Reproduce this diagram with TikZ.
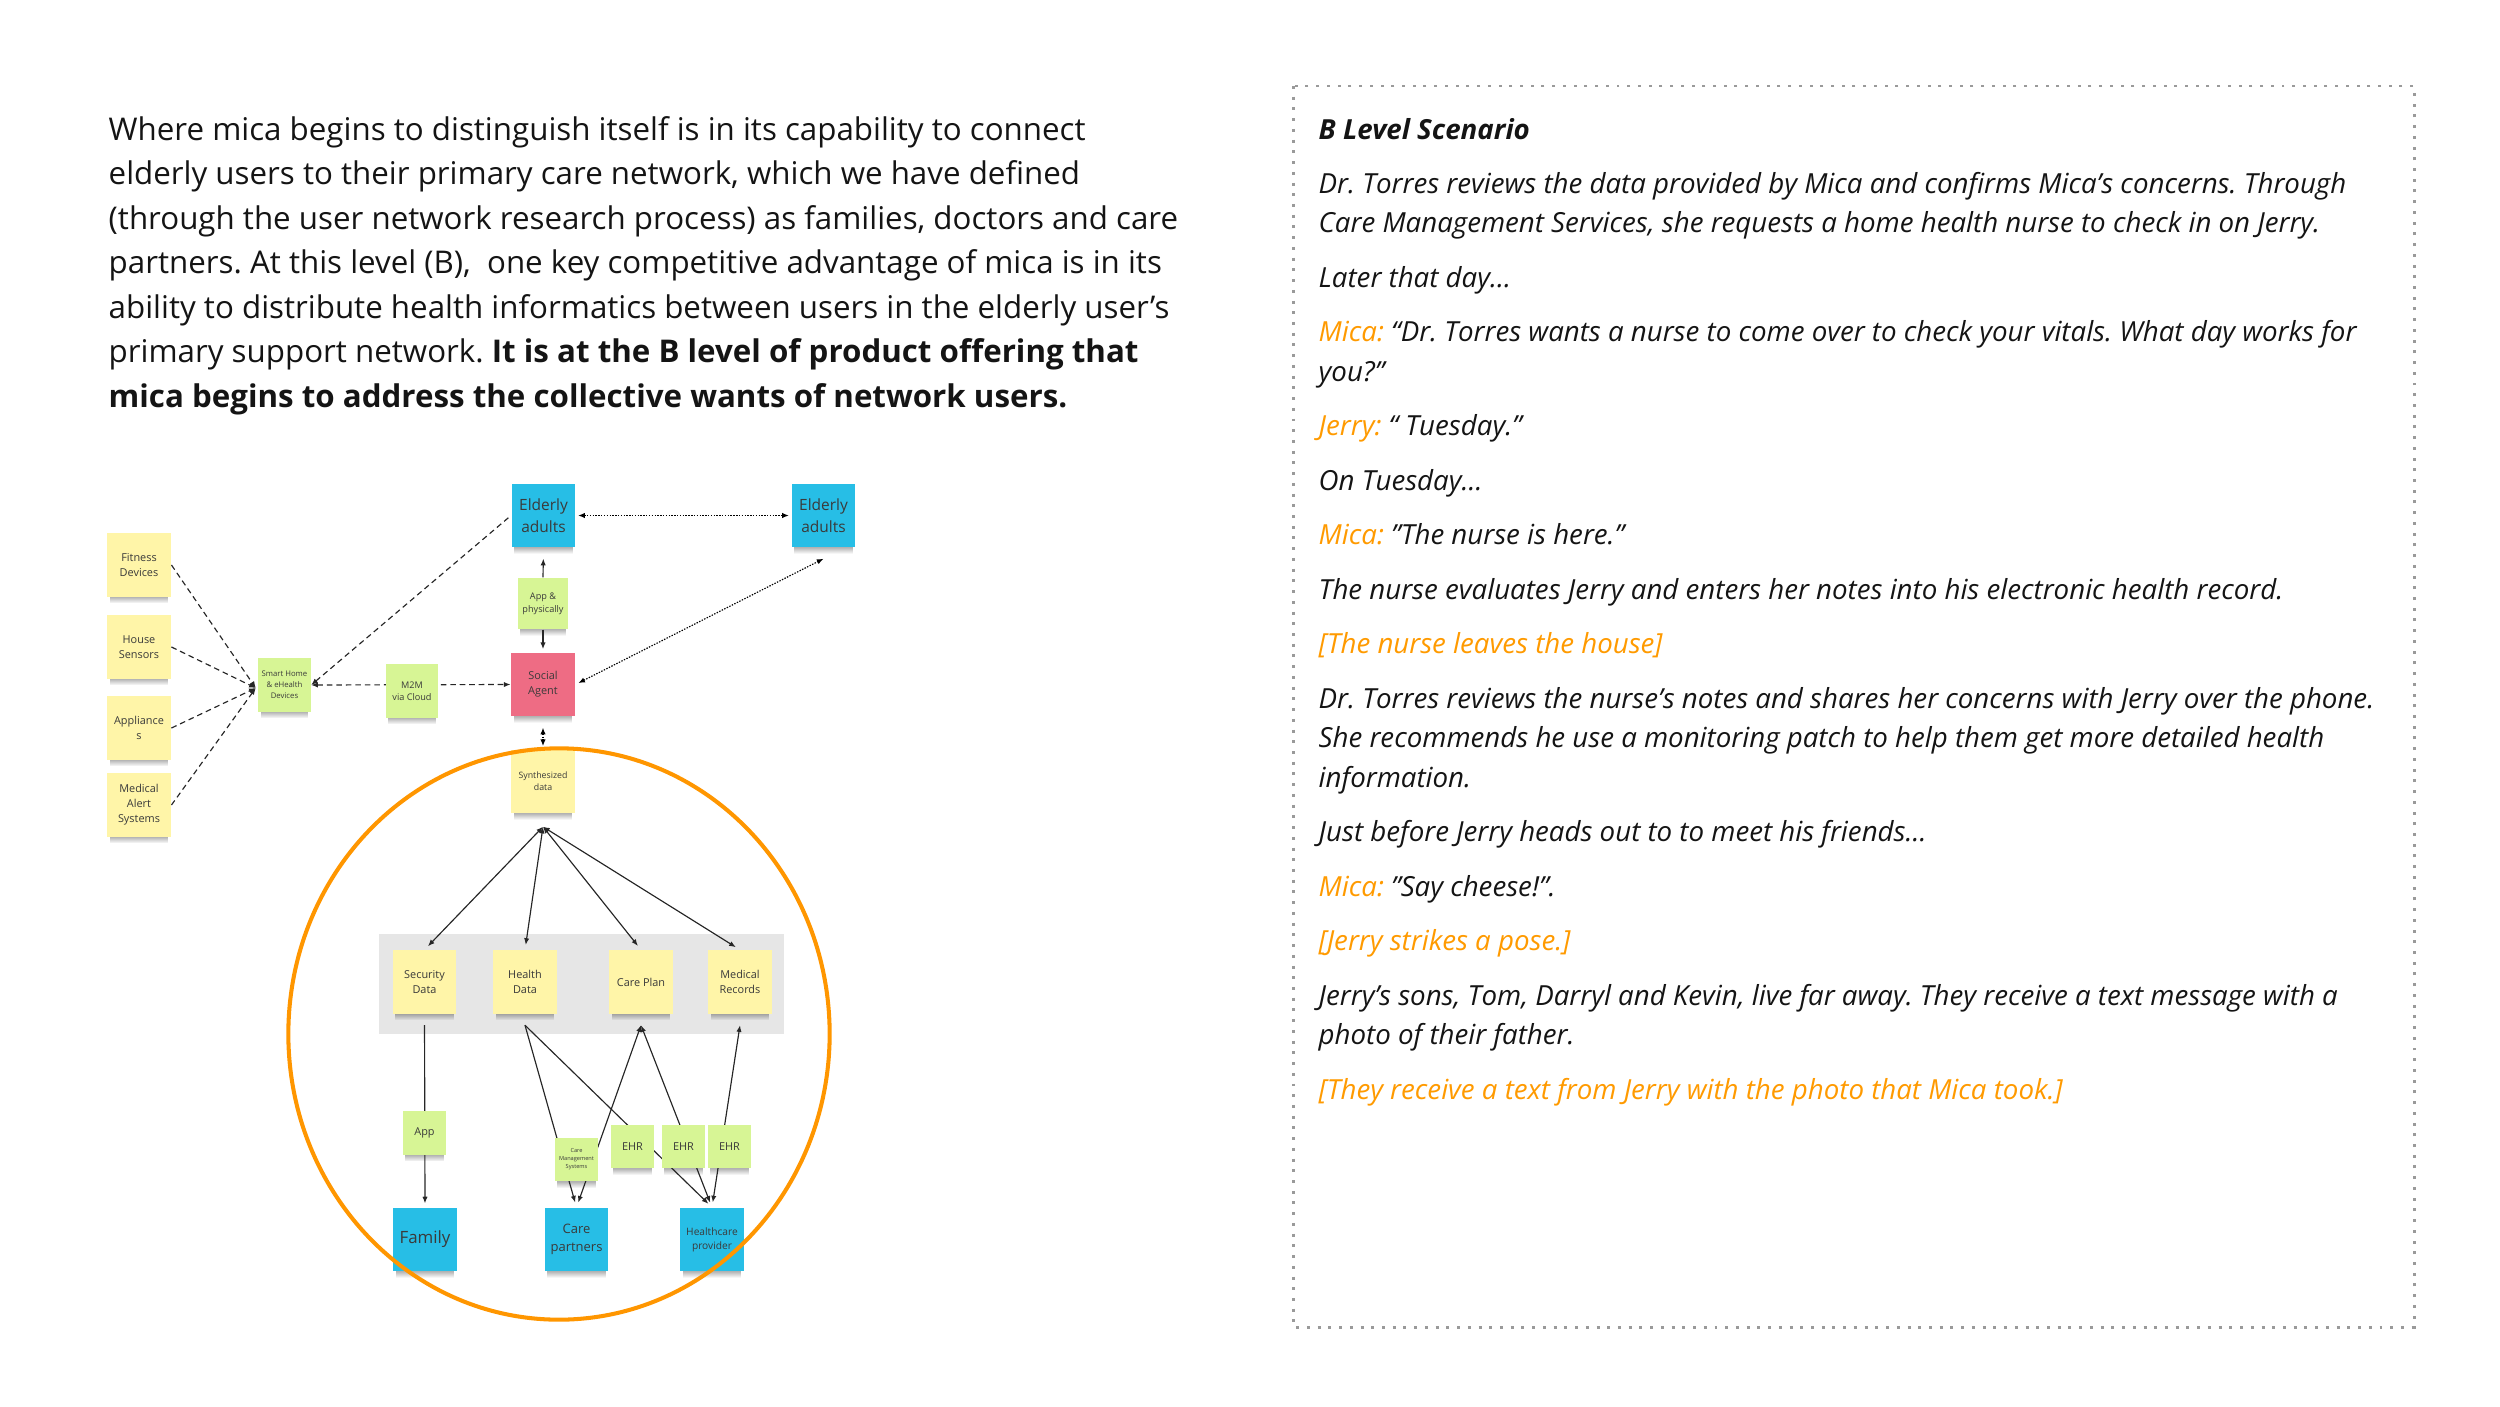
\documentclass[tikz,border=0pt]{standalone}
\usepackage{fontspec}
\setmainfont{Open Sans}
\usetikzlibrary{arrows.meta,calc,backgrounds,fadings}
\definecolor{stYellow}{HTML}{FFF5A8}
\definecolor{stGreen}{HTML}{D7F595}
\definecolor{stCyan}{HTML}{27BEE6}
\definecolor{stPink}{HTML}{EE6C84}
\definecolor{ringOrange}{HTML}{FF9600}
\definecolor{txtOrange}{HTML}{FF9A00}
\definecolor{noteText}{HTML}{3A3A3A}
\definecolor{panelGray}{HTML}{E6E6E6}
\definecolor{borderGray}{HTML}{9A9A9A}
\newcommand\nfs[2]{\fontsize{#1}{#2}\selectfont}
\newcommand\hl[1]{\textcolor{txtOrange}{#1}}
\frenchspacing
\begin{document}
\begin{tikzpicture}[x=0.01cm,y=-0.01cm,
  >={Latex[length=1.9pt,width=1.5pt]},
  note/.style={inner sep=0pt, align=center, text=noteText},
  big/.style={note, minimum width=0.635cm, minimum height=0.63cm},
  mid/.style={note, minimum width=0.52cm, minimum height=0.53cm},
  small/.style={note, minimum width=0.43cm, minimum height=0.435cm},
  yel/.style={fill=stYellow}, grn/.style={fill=stGreen},
  cyn/.style={fill=stCyan}, pnk/.style={fill=stPink},
  con/.style={draw=black!85, line width=0.33pt},
  dashedline/.style={con, dash pattern=on 1.6pt off 1.1pt},
  dottedline/.style={con, draw=black, dash pattern=on 0.4pt off 0.4pt},
  notedrop/.style={fill=black, opacity=0.3, path fading=south},
  ptext/.style={anchor=base west, inner sep=0pt, font=\nfs{8.9}{10}, text=black!92},
  rtext/.style={anchor=base west, inner sep=0pt, font=\nfs{7.87}{10}\itshape, text=black!92}]
\useasboundingbox (0,0) rectangle (2500,1406);

% ---------- left paragraph ----------
\node[ptext] (p1) at (108,140) {Where mica begins to distinguish itself is in its capability to connect};
\node[ptext] (p2) at (108,184.5) {elderly users to their primary care network, which we have defined};
\node[ptext] (p3) at (108,229) {(through the user network research process) as families, doctors and care};
\node[ptext] (p4) at (108,273.5) {partners. At this level (B),\ \ one key competitive advantage of mica is in its};
\node[ptext] (p5) at (108,318) {ability to distribute health informatics between users in the elderly user’s};
\node[ptext] (p6) at (108,362.5) {primary support network. \textbf{It is at the B level of product offering that}};
\node[ptext] (p7) at (108,407) {\textbf{mica begins to address the collective wants of network users.}};

% ---------- right panel ----------
\draw[borderGray, line width=0.85pt, dash pattern=on 0.85pt off 2.2pt] (1293,86) rectangle (2414,1327);
\node[rtext] (r0) at (1318,139) {\textbf{B Level Scenario}};
\node[rtext] (r1) at (1318,193) {Dr. Torres reviews the data provided by Mica and confirms Mica’s concerns. Through};
\node[rtext] (r2) at (1318,232.5) {Care Management Services, she requests a home health nurse to check in on Jerry.};
\node[rtext] (r3) at (1318,287) {Later that day…};
\node[rtext] (r4) at (1318,341.5) {\hl{Mica:} “Dr. Torres wants a nurse to come over to check your vitals. What day works for};
\node[rtext] (r5) at (1318,381) {you?”};
\node[rtext] (r6) at (1318,435.5) {\hl{Jerry:} “ Tuesday.”};
\node[rtext] (r7) at (1318,490) {On Tuesday…};
\node[rtext] (r8) at (1318,544.5) {\hl{Mica:} "The nurse is here."};
\node[rtext] (r9) at (1318,599) {The nurse evaluates Jerry and enters her notes into his electronic health record.};
\node[rtext] (r10) at (1318,653.5) {\hl{[The nurse leaves the house]}};
\node[rtext] (r11) at (1318,708) {Dr. Torres reviews the nurse’s notes and shares her concerns with Jerry over the phone.};
\node[rtext] (r12) at (1318,747.5) {She recommends he use a monitoring patch to help them get more detailed health};
\node[rtext] (r13) at (1318,787) {information.};
\node[rtext] (r14) at (1318,841.5) {Just before Jerry heads out to to meet his friends…};
\node[rtext] (r15) at (1318,896) {\hl{Mica:} "Say cheese!".};
\node[rtext] (r16) at (1318,950.5) {\hl{[Jerry strikes a pose.]}};
\node[rtext] (r17) at (1318,1005) {Jerry’s sons, Tom, Darryl and Kevin, live far away. They receive a text message with a};
\node[rtext] (r18) at (1318,1044.5) {photo of their father.};
\node[rtext] (r19) at (1318,1099) {\hl{[They receive a text from Jerry with the photo that Mica took.]}};

% ---------- diagram notes ----------
\node[big,yel,font=\nfs{3.1}{4.3}] (fit) at (139,565) {Fitness\\Devices};
\node[big,yel,font=\nfs{3.1}{4.3}] (hs) at (139,647) {House\\Sensors};
\node[big,yel,font=\nfs{3.1}{4.3}] (appl) at (139,728) {Appliance\\s};
\node[big,yel,font=\nfs{3.1}{4.3}] (med) at (139,805) {Medical\\Alert\\Systems};
\node[mid,grn,font=\nfs{2.2}{3.1}] (smart) at (284.5,685) {Smart Home\\\& eHealth\\Devices};
\node[mid,grn,font=\nfs{2.6}{3.5}] (m2m) at (412,691) {M2M\\via Cloud};
\node[big,cyn,font=\nfs{4.4}{6.2}] (eld1) at (543.5,515.5) {Elderly\\adults};
\node[big,cyn,font=\nfs{4.4}{6.2}] (eld2) at (823.5,515.5) {Elderly\\adults};
\node[note,grn,minimum width=0.5cm,minimum height=0.51cm,font=\nfs{2.6}{3.6}] (appphy) at (543,603.5) {App \&\\physically};
\node[big,pnk,font=\nfs{3.1}{4.3}] (social) at (543,684.5) {Social\\Agent};
\node[big,yel,font=\nfs{2.5}{3.5}] (synth) at (543,781.5) {Synthesized\\data};

\node[big,yel,font=\nfs{3.1}{4.3}] (sec) at (424.5,982) {Security\\Data};
\node[big,yel,font=\nfs{3.1}{4.3}] (hd) at (525,982) {Health\\Data};
\node[big,yel,font=\nfs{3.1}{4.3}] (cp) at (641,982) {Care Plan};
\node[big,yel,font=\nfs{3.1}{4.3}] (mr) at (740,982) {Medical\\Records};

\node[small,grn,font=\nfs{3.1}{4.3}] (app) at (424.5,1133) {App};
\node[small,grn,font=\nfs{1.6}{2.3}] (cms) at (576.5,1159.5) {Care\\Management\\Systems};
\node[small,grn,font=\nfs{3.1}{4.3}] (ehr1) at (632.5,1146.5) {EHR};
\node[small,grn,font=\nfs{3.1}{4.3}] (ehr2) at (683.5,1146.5) {EHR};
\node[small,grn,font=\nfs{3.1}{4.3}] (ehr3) at (729.5,1146.5) {EHR};

\node[big,cyn,font=\nfs{4.8}{6.6}] (fam) at (425,1239.5) {Family};
\node[big,cyn,font=\nfs{3.7}{5.2}] (cpart) at (576.5,1239.5) {Care\\partners};
\node[big,cyn,font=\nfs{2.9}{4.0}] (hcp) at (712,1239.5) {Healthcare\\provider};

% ---------- background: panel, shadows, connectors ----------
\begin{scope}[on background layer]
  \fill[panelGray] (379,934) rectangle (784,1034);
  \foreach \n in {fit,hs,appl,med,smart,m2m,eld1,eld2,appphy,social,synth,sec,hd,cp,mr,app,cms,ehr1,ehr2,ehr3,fam,cpart,hcp}
    \fill[notedrop] ($(\n.south west)+(3,-0.5)$) rectangle ($(\n.south east)+(-3,6)$);

  \coordinate (shub) at ($(smart.west)+(-2,3)$);
  \foreach \s in {fit,hs,appl,med}
    \draw[dashedline,->] (\s.east) -- (shub);
  \draw[dashedline,<-] (smart.east) -- (eld1.west);
  \draw[dashedline,<->] (smart.east) -- (social.west);
  \draw[dottedline,<->,shorten <=0.6pt,shorten >=0.6pt] (eld1.east) -- (eld2.west);
  \coordinate (eld2in) at ($(eld2.south)+(0,11)$);
  \draw[dottedline,<->,shorten <=0.9pt] (social.east) -- (eld2in);
  \draw[con,->,shorten >=3.1pt] (appphy.north) -- (eld1.south);
  \draw[con,->,shorten >=0.9pt] (appphy.south) -- (social.north);
  \draw[dottedline,<->,shorten <=3.1pt,shorten >=0.9pt] (social.south) -- (synth.north);

  \coordinate (synhub) at ($(synth.south)+(0,13)$);
  \foreach \t in {sec,hd,cp,mr}
    \draw[con,<->,shorten >=1.4pt] (synhub) -- (\t.north);

  \draw[con,->,shorten <=3.1pt,shorten >=1.1pt] (sec.south) -- (fam.north);
  \coordinate (hdhub) at ($(hd.south)+(0,11)$);
  \coordinate (cphub) at ($(cp.south)+(0,11)$);
  \coordinate (mrhub) at ($(mr.south)+(0,11)$);
  \draw[con,->,shorten >=1.4pt] (hdhub) -- (cpart.north);
  \draw[con,->,shorten >=1.4pt] (hdhub) -- (hcp.north);
  \draw[con,<->,shorten >=1.4pt] (cphub) -- (cpart.north);
  \draw[con,<->,shorten >=1.4pt] (cphub) -- (hcp.north);
  \draw[con,<->,shorten >=1.4pt] (mrhub) -- (hcp.north);
\end{scope}

% ---------- orange ring ----------
\draw[ringOrange, line width=1.15pt] (559,1034) ellipse [x radius=2.705cm, y radius=2.855cm];
\end{tikzpicture}
\end{document}
